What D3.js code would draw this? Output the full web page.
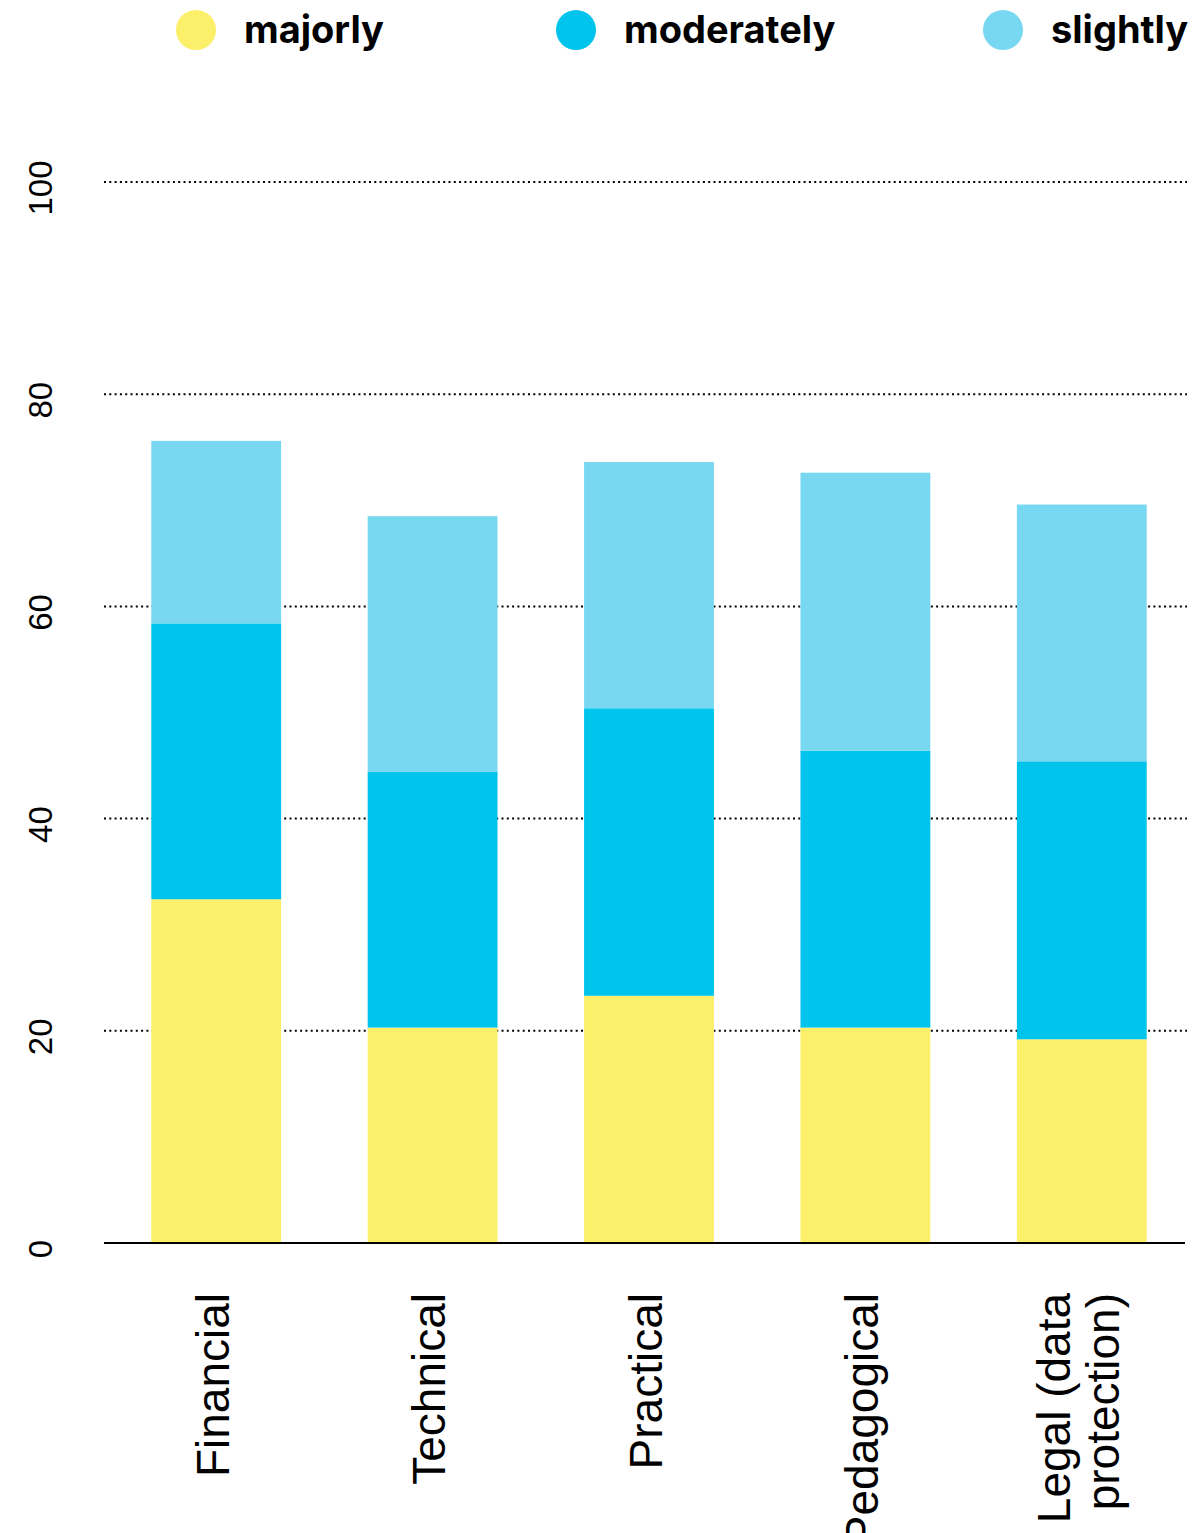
<!DOCTYPE html>
<html>
<head>
<meta charset="utf-8">
<script src="https://cdn.jsdelivr.net/npm/d3@7"></script>
<style>
  html, body { margin: 0; padding: 0; background: #fff; }
  svg { display: block; }
</style>
</head>
<body>
<svg id="chart" width="1199" height="1533"></svg>
<script>
const categories = ["Financial", "Technical", "Practical", "Pedagogical", "Legal (data protection)"];
const categoryLines = [["Financial"], ["Technical"], ["Practical"], ["Pedagogical"], ["Legal (data", "protection)"]];
const seriesNames = ["majorly", "moderately", "slightly"];
const majorly    = [32.4, 20.3, 23.3, 20.3, 19.2];
const moderately = [26.0, 24.1, 27.1, 26.1, 26.2];
const slightly   = [17.2, 24.1, 23.2, 26.2, 24.2];
const yTicks = [0, 20, 40, 60, 80, 100];
const colors = ["#FCEF69", "#00C4EC", "#78D7F1"];

const svg = d3.select("#chart");

const rows = categories.map((c, i) => ({
  category: c, majorly: majorly[i], moderately: moderately[i], slightly: slightly[i]
}));
const stacked = d3.stack().keys(seriesNames)(rows);

const x = d3.scaleBand().domain(categories).range([108, 1190]).paddingInner(0.4).paddingOuter(0.2);
const y = d3.scaleLinear().domain([0, 100]).range([1243, 182]);
const color = d3.scaleOrdinal().domain(seriesNames).range(colors);

// gridlines
svg.append("g").selectAll("line")
  .data(yTicks.filter(t => t > 0))
  .join("line")
  .attr("x1", 104).attr("x2", 1187)
  .attr("y1", d => y(d)).attr("y2", d => y(d))
  .attr("stroke", "#000").attr("stroke-width", 2)
  .attr("stroke-dasharray", "2,3.3");

// bars
svg.append("g").selectAll("g")
  .data(stacked)
  .join("g")
  .attr("fill", d => color(d.key))
  .selectAll("rect")
  .data(d => d)
  .join("rect")
  .attr("x", d => x(d.data.category))
  .attr("width", x.bandwidth())
  .attr("y", d => y(d[1]))
  .attr("height", d => y(d[0]) - y(d[1]));

// baseline axis
svg.append("line")
  .attr("x1", 104).attr("x2", 1185)
  .attr("y1", y(0)).attr("y2", y(0))
  .attr("stroke", "#000").attr("stroke-width", 2.2);

// y tick labels (rotated)
svg.append("g").selectAll("text")
  .data(yTicks)
  .join("text")
  .attr("transform", d => `translate(52,${y(d) + 6}) rotate(-90)`)
  .attr("text-anchor", "middle")
  .attr("font-family", "'Liberation Sans', Arial, sans-serif")
  .attr("font-size", 33)
  .attr("fill", "#000")
  .text(d => d);

// x labels (rotated)
const lh = 49;
const xl = svg.append("g").selectAll("text")
  .data(categories)
  .join("text")
  .attr("transform", (d, i) => {
    const n = categoryLines[i].length;
    return `translate(${x(d) + x.bandwidth() / 2 + 11.5 - (n - 1) * lh / 2 + 1},1293) rotate(-90)`;
  })
  .attr("text-anchor", "end")
  .attr("font-family", "'Liberation Sans', Arial, sans-serif")
  .attr("font-size", 46)
  .attr("fill", "#000");
xl.each(function(d, i) {
  d3.select(this).selectAll("tspan")
    .data(categoryLines[i])
    .join("tspan")
    .attr("x", 0)
    .attr("y", (t, j) => j * lh)
    .text(t => t);
});

// legend
const legendX = [196, 576, 1003];
const lg = svg.append("g").selectAll("g")
  .data(seriesNames)
  .join("g")
  .attr("transform", (d, i) => `translate(${legendX[i]},30)`);
lg.append("circle").attr("r", 20).attr("fill", d => color(d));
lg.append("text")
  .attr("x", 48).attr("y", 13)
  .attr("font-family", "Inter, 'Liberation Sans', Arial, sans-serif")
  .attr("font-weight", 700)
  .attr("font-size", 38)
  .attr("fill", "#000")
  .text(d => d);
</script>
</body>
</html>
